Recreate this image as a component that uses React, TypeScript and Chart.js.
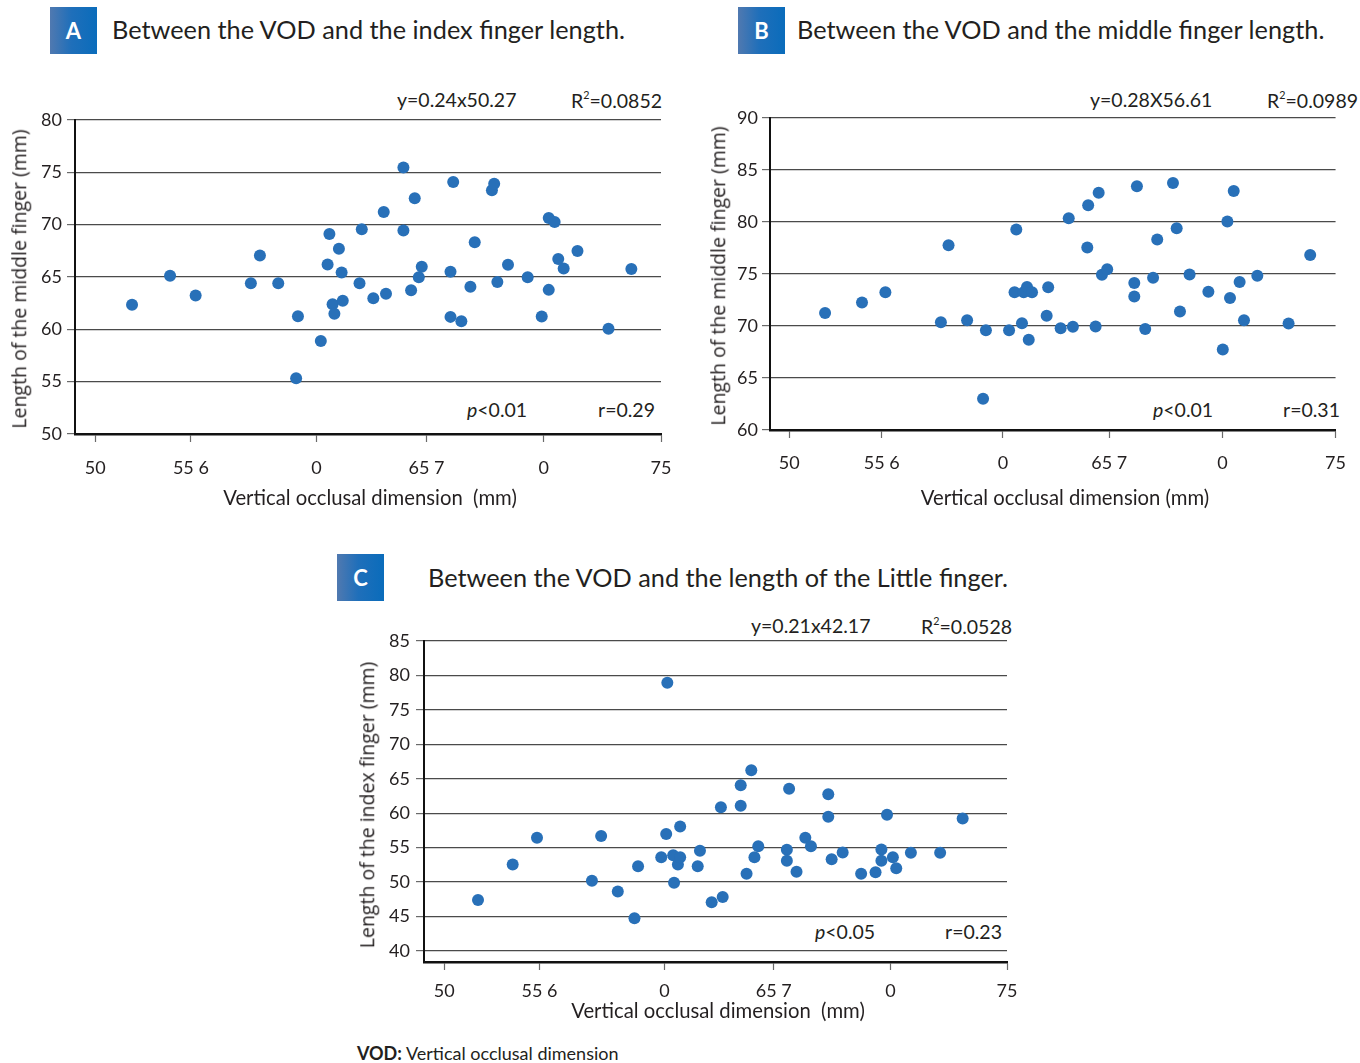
import React, { useEffect, useRef } from "react";
import { Chart, registerables } from "chart.js";

Chart.register(...registerables);

// ---- shared axis ticks ----
const xTickValues = [50, 54.23, 59.78, 64.64, 69.82, 75];
const xTickLabels = ["50", "55 6", "0", "65 7", "0", "75"];

// ---- Panel A: VOD vs middle finger (first) ----
const yTicksA = [50, 55, 60, 65, 70, 75, 80];
const vodA = [51.63, 53.31, 54.44, 56.88, 57.28, 58.09, 58.96, 58.88, 59.97, 60.27, 60.35, 60.49, 60.57, 60.77, 60.89, 60.94, 61.68, 61.78, 62.29, 62.75, 62.85, 63.62, 63.62, 63.96, 64.12, 64.3, 64.43, 65.7, 65.7, 65.82, 66.18, 66.58, 66.77, 67.53, 67.63, 67.77, 68.24, 69.11, 69.73, 70.04, 70.04, 70.3, 70.46, 70.7, 71.31, 72.68, 73.69];
const fingerA = [62.35, 65.13, 63.24, 64.4, 67.05, 64.4, 61.25, 55.33, 58.89, 66.2, 69.1, 62.39, 61.5, 67.71, 65.44, 62.73, 64.4, 69.57, 62.98, 71.21, 63.39, 75.46, 69.44, 63.74, 72.53, 64.97, 65.98, 65.5, 61.19, 74.08, 60.78, 64.06, 68.31, 73.29, 73.92, 64.53, 66.17, 64.97, 61.22, 70.64, 63.77, 70.26, 66.73, 65.82, 67.49, 60.05, 65.76];

// ---- Panel B: VOD vs middle finger ----
const yTicksB = [60, 65, 70, 75, 80, 85, 90];
const vodB = [51.64, 53.33, 54.4, 56.94, 57.29, 58.14, 58.87, 59.0, 60.06, 60.39, 60.31, 60.65, 60.73, 60.88, 60.96, 61.11, 61.78, 61.85, 62.42, 62.79, 62.98, 63.64, 63.68, 64.02, 64.16, 64.31, 64.55, 65.79, 65.79, 65.91, 66.29, 66.65, 66.84, 67.56, 67.73, 67.88, 68.32, 69.18, 69.84, 70.05, 70.17, 70.34, 70.61, 70.81, 71.42, 72.85, 73.84];
const fingerB = [71.25, 72.26, 73.24, 70.36, 77.77, 70.55, 63.01, 69.6, 69.6, 79.29, 73.24, 70.26, 73.24, 73.75, 68.68, 73.24, 70.99, 73.72, 69.79, 80.37, 69.92, 77.55, 81.61, 69.95, 82.81, 74.92, 75.46, 74.13, 72.83, 83.44, 69.72, 74.64, 78.31, 83.76, 79.39, 71.4, 74.95, 73.3, 67.73, 80.05, 72.7, 82.97, 74.22, 70.55, 74.83, 70.23, 76.82];

// ---- Panel C: VOD vs index finger ----
const yTicksC = [40, 45, 50, 55, 60, 65, 70, 75, 80, 85];
const vodC = [51.5, 53.04, 54.12, 56.56, 56.97, 57.71, 58.45, 58.61, 59.64, 59.86, 59.91, 60.17, 60.21, 60.38, 60.48, 60.48, 61.26, 61.36, 61.88, 62.29, 62.37, 63.17, 63.17, 63.43, 63.64, 63.78, 63.95, 65.22, 65.22, 65.32, 65.65, 66.04, 66.29, 67.06, 67.06, 67.21, 67.7, 68.52, 69.16, 69.42, 69.42, 69.67, 69.93, 70.08, 70.73, 72.03, 73.03];
const fingerC = [47.41, 52.56, 56.44, 50.18, 56.68, 48.63, 44.75, 52.31, 53.62, 56.97, 78.94, 53.91, 49.89, 52.56, 53.62, 58.08, 52.31, 54.54, 47.08, 60.85, 47.85, 64.05, 61.09, 51.2, 66.23, 53.62, 55.22, 54.69, 53.09, 63.56, 51.49, 56.44, 55.22, 62.74, 59.49, 53.33, 54.3, 51.2, 51.44, 54.74, 53.09, 59.78, 53.62, 52.02, 54.25, 54.25, 59.22];

const FONT = "Lato, 'Open Sans', sans-serif";
const TEXT = "#231f20";
const DOT = "#2870b8";

type Box = { left: number; top: number; width: number; height: number };
type Area = { left: number; top: number; right: number; bottom: number };

type PanelProps = {
  xs: number[];
  ys: number[];
  yTicks: number[];
  xMin: number;
  yMin: number;
  yMax: number;
  box: Box;
  area: Area;
  xLabelPad: number;
  yLabelPad: number;
};

function ScatterPanel(p: PanelProps) {
  const ref = useRef<HTMLCanvasElement | null>(null);
  useEffect(() => {
    if (!ref.current) return;
    const yAxisW = p.area.left - p.box.left;
    const xAxisH = p.box.top + p.box.height - p.area.bottom;
    const chart = new Chart(ref.current, {
      type: "scatter",
      data: {
        datasets: [
          {
            data: p.xs.map((x, i) => ({ x, y: p.ys[i] })),
            backgroundColor: DOT,
            borderColor: DOT,
            borderWidth: 0,
            pointRadius: 6,
            pointHoverRadius: 6,
          },
        ],
      },
      options: {
        animation: false,
        responsive: false,
        events: [],
        layout: {
          padding: {
            left: 0,
            top: p.area.top - p.box.top,
            right: p.box.left + p.box.width - p.area.right,
            bottom: 0,
          },
        },
        plugins: { legend: { display: false }, tooltip: { enabled: false } },
        scales: {
          x: {
            type: "linear",
            min: p.xMin,
            max: 75,
            afterBuildTicks: (s: any) => {
              s.ticks = xTickValues.map((v) => ({ value: v }));
            },
            afterFit: (s: any) => {
              s.height = xAxisH;
            },
            ticks: {
              autoSkip: false,
              maxRotation: 0,
              padding: p.xLabelPad,
              color: TEXT,
              font: { family: FONT, size: 18 },
              callback: (_v: any, i: number) => xTickLabels[i],
            },
            grid: {
              drawOnChartArea: false,
              drawTicks: true,
              tickLength: 8,
              tickColor: "#6a6a6a",
              tickWidth: 1.2,
            },
            border: { color: "#111", width: 2.5 },
          },
          y: {
            type: "linear",
            min: p.yMin,
            max: p.yMax,
            afterBuildTicks: (s: any) => {
              s.ticks = p.yTicks.map((v) => ({ value: v }));
            },
            afterFit: (s: any) => {
              s.width = yAxisW;
            },
            ticks: {
              padding: p.yLabelPad,
              color: TEXT,
              font: { family: FONT, size: 18 },
            },
            grid: {
              color: "#4a4a4a",
              lineWidth: 1.2,
              drawTicks: true,
              tickLength: 8,
              tickColor: "#6a6a6a",
            },
            border: { color: "#111", width: 2 },
          },
        },
      },
    } as any);
    return () => chart.destroy();
  }, []);
  return (
    <canvas
      ref={ref}
      width={p.box.width}
      height={p.box.height}
      style={{
        position: "absolute",
        left: p.box.left,
        top: p.box.top,
        width: p.box.width,
        height: p.box.height,
      }}
    />
  );
}

function Txt(props: {
  x: number;
  y: number;
  size?: number;
  children: React.ReactNode;
  anchor?: "left" | "center" | "right";
  family?: string;
  style?: React.CSSProperties;
}) {
  const { x, y, size = 19.5, anchor = "left", family = FONT } = props;
  const tx = anchor === "left" ? "0" : anchor === "center" ? "-50%" : "-100%";
  return (
    <div
      style={{
        position: "absolute",
        left: x,
        top: y,
        transform: `translate(${tx}, -50%)`,
        fontFamily: family,
        fontSize: size,
        color: TEXT,
        whiteSpace: "pre",
        lineHeight: 1,
        ...props.style,
      }}
    >
      {props.children}
    </div>
  );
}

function VTxt(props: { x: number; y: number; size?: number; children: React.ReactNode }) {
  return (
    <div
      style={{
        position: "absolute",
        left: props.x,
        top: props.y,
        transform: "translate(-50%, -50%) rotate(-90deg)",
        fontFamily: "'Open Sans', sans-serif",
        fontSize: props.size ?? 19.5,
        color: TEXT,
        whiteSpace: "pre",
        lineHeight: 1,
      }}
    >
      {props.children}
    </div>
  );
}

function Badge(props: { x: number; y: number; letter: string }) {
  return (
    <div
      style={{
        position: "absolute",
        left: props.x,
        top: props.y,
        width: 47,
        height: 47,
        background: "linear-gradient(to right, #5079b0 0%, #1f6fba 45%, #0a6cbb 100%)",
        color: "#fff",
        fontFamily: FONT,
        fontWeight: 700,
        fontSize: 22,
        display: "flex",
        alignItems: "center",
        justifyContent: "center",
      }}
    >
      {props.letter}
    </div>
  );
}

function R2(props: { v: string }) {
  return (
    <span>
      R<sup style={{ fontSize: "0.55em", verticalAlign: "0.8em" }}>2</sup>={props.v}
    </span>
  );
}

function P(props: { v: string }) {
  return (
    <span>
      <i>p</i>
      {props.v}
    </span>
  );
}

export default function App() {
  return (
    <div
      style={{
        position: "absolute",
        left: 0,
        top: 0,
        width: 1360,
        height: 1063,
        background: "#fff",
        overflow: "hidden",
      }}
    >
      {/* Panel A */}
      <Badge x={50} y={7} letter="A" />
      <Txt x={112} y={30} size={25.3}>Between the VOD and the index finger length.</Txt>
      <Txt x={397} y={100}>y=0.24x50.27</Txt>
      <Txt x={662} y={100} anchor="right"><R2 v="0.0852" /></Txt>
      <Txt x={467} y={410}><P v="<0.01" /></Txt>
      <Txt x={655} y={410} anchor="right">r=0.29</Txt>
      <ScatterPanel
        xs={vodA}
        ys={fingerA}
        yTicks={yTicksA}
        xMin={49.11}
        yMin={50}
        yMax={80}
        box={{ left: 0, top: 100, width: 690, height: 400 }}
        area={{ left: 75, top: 120, right: 661, bottom: 434 }}
        xLabelPad={15}
        yLabelPad={5}
      />
      <VTxt x={19} y={279}>Length of the middle finger (mm)</VTxt>
      <Txt x={370} y={497} size={20.3} anchor="center">Vertical occlusal dimension  (mm)</Txt>

      {/* Panel B */}
      <Badge x={738} y={7} letter="B" />
      <Txt x={797} y={30} size={25.3}>Between the VOD and the middle finger length.</Txt>
      <Txt x={1090} y={100}>y=0.28X56.61</Txt>
      <Txt x={1358} y={100} anchor="right"><R2 v="0.0989" /></Txt>
      <Txt x={1153} y={410}><P v="<0.01" /></Txt>
      <Txt x={1340} y={410} anchor="right">r=0.31</Txt>
      <ScatterPanel
        xs={vodB}
        ys={fingerB}
        yTicks={yTicksB}
        xMin={49.12}
        yMin={60}
        yMax={90}
        box={{ left: 690, top: 100, width: 670, height: 400 }}
        area={{ left: 770, top: 118, right: 1340, bottom: 430 }}
        xLabelPad={14}
        yLabelPad={4}
      />
      <VTxt x={718} y={276}>Length of the middle finger (mm)</VTxt>
      <Txt x={1065} y={497} size={20.3} anchor="center">Vertical occlusal dimension (mm)</Txt>

      {/* Panel C */}
      <Badge x={337} y={554} letter="C" />
      <Txt x={428} y={578} size={25.3}>Between the VOD and the length of the Little finger.</Txt>
      <Txt x={751} y={626}>y=0.21x42.17</Txt>
      <Txt x={1012} y={626} anchor="right"><R2 v="0.0528" /></Txt>
      <Txt x={815} y={932}><P v="<0.05" /></Txt>
      <Txt x={1002} y={932} anchor="right">r=0.23</Txt>
      <ScatterPanel
        xs={vodC}
        ys={fingerC}
        yTicks={yTicksC}
        xMin={49.1}
        yMin={38.4}
        yMax={85}
        box={{ left: 340, top: 620, width: 690, height: 400 }}
        area={{ left: 424, top: 641, right: 1007, bottom: 962 }}
        xLabelPad={10}
        yLabelPad={6}
      />
      <VTxt x={367} y={805}>Length of the index finger (mm)</VTxt>
      <Txt x={718} y={1010} size={20.3} anchor="center">Vertical occlusal dimension  (mm)</Txt>

      <Txt x={357} y={1053} size={18}>
        <b>VOD:</b> Vertical occlusal dimension
      </Txt>
    </div>
  );
}
